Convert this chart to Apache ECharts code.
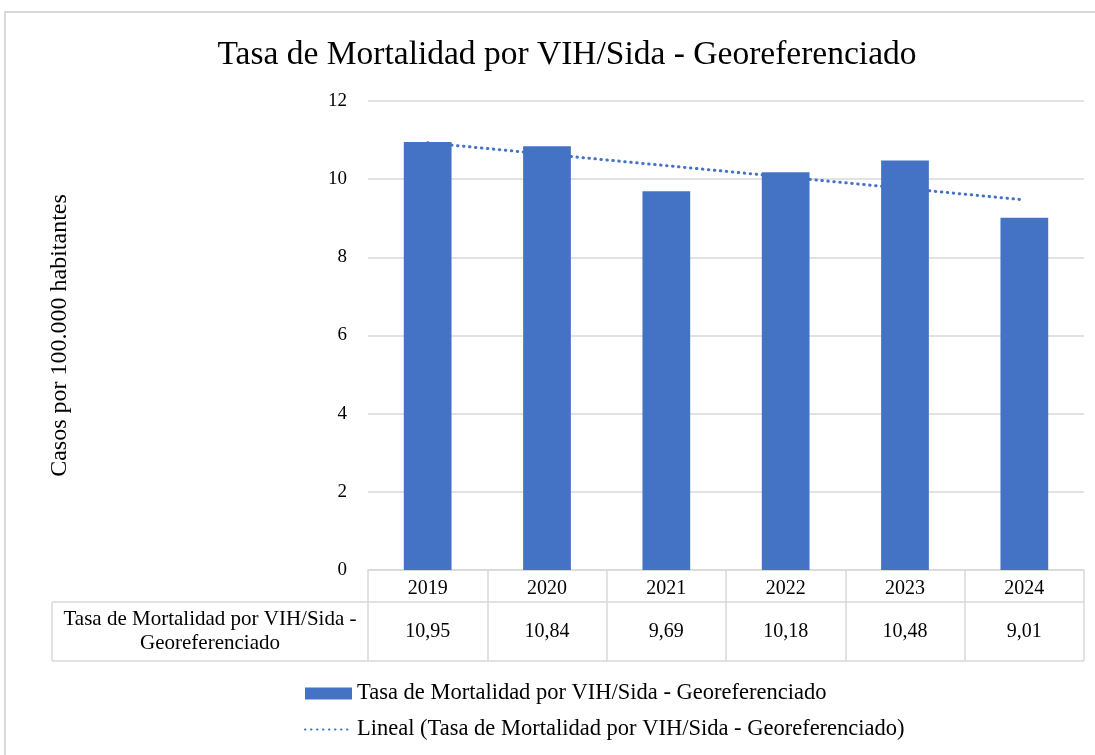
<!DOCTYPE html>
<html>
<head>
<meta charset="utf-8">
<script src="https://cdn.jsdelivr.net/npm/echarts@6/dist/echarts.min.js"></script>
<style>
  html, body { margin: 0; padding: 0; background: #fff; }
  #main { width: 1095px; height: 755px; }
</style>
</head>
<body>
<div id="main"></div>
<script>
// datos
const years = ["2019", "2020", "2021", "2022", "2023", "2024"];
const tasa = [10.95, 10.84, 9.69, 10.18, 10.48, 9.01];
// línea de tendencia (extremos)
const trendYears = ["2019", "2024"];
const trendValues = [10.93, 9.47];
const yTicks = [0, 12, 2];

const serieName = "Tasa de Mortalidad por VIH/Sida - Georeferenciado";
const trendName = "Lineal (Tasa de Mortalidad por VIH/Sida - Georeferenciado)";
const FONT = "Liberation Serif";
const GRAY = "#d9d9d9";
const BLUE = "#4472c4";

const chart = echarts.init(document.getElementById("main"));

const fmt = (v) => v.toFixed(2).replace(".", ",");

chart.setOption({
  animation: false,
  textStyle: { fontFamily: FONT, color: "#000" },
  title: {
    text: "Tasa de Mortalidad por VIH/Sida - Georeferenciado",
    left: 562,
    textAlign: "center",
    top: 33,
    textStyle: { fontFamily: FONT, fontSize: 33.5, fontWeight: "normal", color: "#000" },
  },
  grid: { left: 368, right: 11, top: 101, bottom: 185 },
  legend: {
    orient: "vertical",
    left: 299,
    top: 677,
    itemWidth: 47,
    itemHeight: 12,
    itemGap: 13,
    textStyle: { fontFamily: FONT, fontSize: 22.5, color: "#000" },
    data: [
      { name: serieName, icon: "rect" },
      { name: trendName, itemStyle: { opacity: 0 } },
    ],
  },
  xAxis: {
    type: "category",
    data: years,
    axisLine: { lineStyle: { color: GRAY, width: 1.5 } },
    axisTick: { show: true, length: 91, lineStyle: { color: GRAY, width: 1.5 } },
    axisLabel: { fontSize: 20, color: "#000", margin: 9, fontFamily: FONT },
  },
  yAxis: {
    type: "value",
    min: yTicks[0],
    max: yTicks[1],
    interval: yTicks[2],
    name: "Casos por 100.000 habitantes",
    nameLocation: "middle",
    nameGap: 296,
    nameTextStyle: { fontSize: 24, color: "#000", fontFamily: FONT },
    axisLine: { show: false },
    axisTick: { show: false },
    axisLabel: { fontSize: 19, color: "#000", margin: 21, fontFamily: FONT },
    splitLine: { lineStyle: { color: GRAY, width: 1.5 } },
  },
  series: [
    {
      name: serieName,
      type: "bar",
      data: tasa,
      barWidth: "40%",
      itemStyle: { color: BLUE },
    },
    {
      name: trendName,
      type: "line",
      data: trendYears.map((y, i) => [y, trendValues[i]]),
      symbol: "none",
      lineStyle: { color: BLUE, width: 3, type: [0.5, 5.5], cap: "round" },
      itemStyle: { color: BLUE },
      z: 5,
    },
  ],
});

// tabla de datos bajo el eje
function drawTable() {
  const y0 = chart.convertToPixel({ yAxisIndex: 0 }, 0);
  const c0 = chart.convertToPixel({ xAxisIndex: 0 }, years[0]);
  const c1 = chart.convertToPixel({ xAxisIndex: 0 }, years[1]);
  const step = c1 - c0;
  const xLeft = c0 - step / 2;
  const xRight = xLeft + step * years.length;
  const rowTop = y0 + 32;
  const rowBottom = y0 + 91;
  const labelLeft = 52;
  const line = (x1, y1, x2, y2) => ({
    type: "line",
    shape: { x1, y1, x2, y2 },
    style: { stroke: GRAY, lineWidth: 1.5 },
    silent: true,
  });
  const elements = [
    // marco exterior
    {
      type: "rect",
      shape: { x: 5, y: 12, width: 1200, height: 900 },
      style: { fill: null, stroke: GRAY, lineWidth: 2 },
      silent: true,
    },
    line(labelLeft, rowTop, xRight, rowTop),
    line(labelLeft, rowBottom, xRight, rowBottom),
    line(labelLeft, rowTop, labelLeft, rowBottom),
    {
      type: "text",
      x: (labelLeft + xLeft) / 2,
      y: (rowTop + rowBottom) / 2,
      style: {
        text: "Tasa de Mortalidad por VIH/Sida -\nGeoreferenciado",
        font: "21px " + FONT,
        fill: "#000",
        align: "center",
        verticalAlign: "middle",
        lineHeight: 24,
      },
    },
  ];
  tasa.forEach((v, i) => {
    elements.push({
      type: "text",
      x: chart.convertToPixel({ xAxisIndex: 0 }, years[i]),
      y: (rowTop + rowBottom) / 2,
      style: {
        text: fmt(v),
        font: "20px " + FONT,
        fill: "#000",
        align: "center",
        verticalAlign: "middle",
      },
    });
  });
  chart.setOption({ graphic: elements });
}
drawTable();
</script>
</body>
</html>
